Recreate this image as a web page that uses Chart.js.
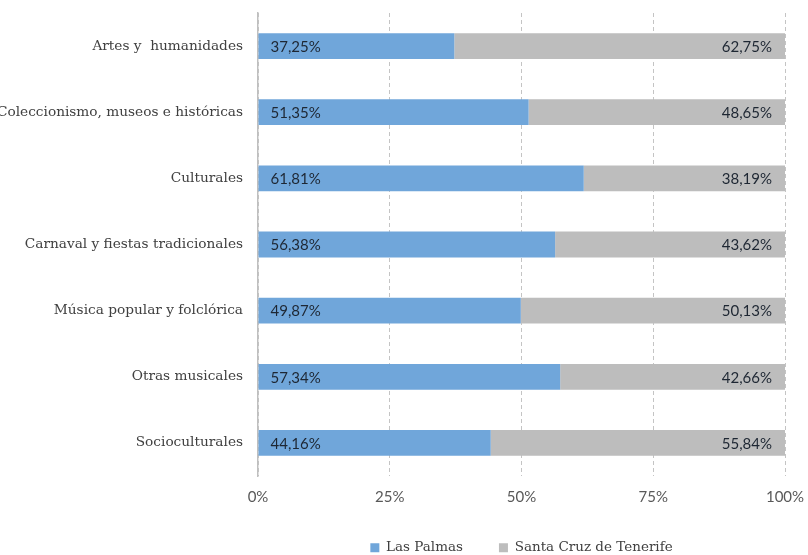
<!DOCTYPE html>
<html>
<head>
<meta charset="utf-8">
<script src="https://cdn.jsdelivr.net/npm/chart.js@4/dist/chart.umd.min.js"></script>
<style>
  html, body { margin: 0; padding: 0; background: #fff; }
  #wrap { width: 808px; height: 555px; }
</style>
</head>
<body>
<div id="wrap"><canvas id="chart"></canvas></div>
<script>
const categories = [
  'Artes y  humanidades',
  'Coleccionismo, museos e históricas',
  'Culturales',
  'Carnaval y fiestas tradicionales',
  'Música popular y folclórica',
  'Otras musicales',
  'Socioculturales'
];
const lasPalmas = [37.25, 51.35, 61.81, 56.38, 49.87, 57.34, 44.16];
const santaCruz = [62.75, 48.65, 38.19, 43.62, 50.13, 42.66, 55.84];
const xTicks = [0, 25, 50, 75, 100];

const SERIF = "'DejaVu Serif', serif";
const SANS = "Lato, sans-serif";
const TEXT = '#404040';

const fmt = v => v.toFixed(2).replace('.', ',') + '%';

// percentage text inside each bar: blue ones from the left, grey ones from the right
const barLabels = {
  id: 'barLabels',
  afterDatasetsDraw(chart) {
    const ctx = chart.ctx;
    ctx.save();
    ctx.font = '15px ' + SANS;
    ctx.fillStyle = '#1e2733';
    ctx.textBaseline = 'middle';
    chart.data.datasets.forEach((ds, i) => {
      chart.getDatasetMeta(i).data.forEach((bar, j) => {
        const txt = fmt(ds.data[j]);
        if (i === 0) {
          ctx.textAlign = 'left';
          ctx.fillText(txt, bar.base + 12, bar.y + 1);
        } else {
          ctx.textAlign = 'right';
          ctx.fillText(txt, bar.x - 13, bar.y + 1);
        }
      });
    });
    ctx.restore();
  }
};

new Chart(document.getElementById('chart'), {
  type: 'bar',
  data: {
    labels: categories,
    datasets: [
      { label: 'Las Palmas', data: lasPalmas, backgroundColor: '#70a6da', barPercentage: 0.39, categoryPercentage: 1 },
      { label: 'Santa Cruz de Tenerife', data: santaCruz, backgroundColor: '#bdbdbd', barPercentage: 0.39, categoryPercentage: 1 }
    ]
  },
  options: {
    indexAxis: 'y',
    responsive: true,
    maintainAspectRatio: false,
    animation: false,
    layout: { padding: { top: 13, right: 23, bottom: 0, left: 0 } },
    scales: {
      x: {
        stacked: true,
        min: 0,
        max: 100,
        afterBuildTicks: scale => { scale.ticks = xTicks.map(v => ({ value: v })); },
        afterFit: scale => {
          scale.height = 29;
          scale.paddingLeft = 0;
          scale.paddingRight = 0;
        },
        ticks: {
          callback: v => v + '%',
          font: { family: SANS, size: 15 },
          color: '#595959',
          padding: 12,
          maxRotation: 0
        },
        grid: { color: '#c4c4c4', lineWidth: 1, drawTicks: false },
        border: { display: false, dash: [4, 3] }
      },
      y: {
        stacked: true,
        afterFit: scale => {
          scale.width = 258;
          scale.paddingTop = 0;
          scale.paddingBottom = 0;
        },
        ticks: {
          font: { family: SERIF, size: 13.7 },
          color: TEXT,
          padding: 15,
          autoSkip: false
        },
        grid: { display: false, drawTicks: false },
        border: { display: true, color: '#bfbfbf', width: 1.5 }
      }
    },
    plugins: {
      legend: {
        position: 'bottom',
        fullSize: false,
        maxHeight: 50,
        labels: {
          boxWidth: 9,
          boxHeight: 9,
          padding: 36,
          color: TEXT,
          font: { family: SERIF, size: 13.5 }
        }
      },
      tooltip: { enabled: false }
    }
  },
  plugins: [barLabels]
});
</script>
</body>
</html>
